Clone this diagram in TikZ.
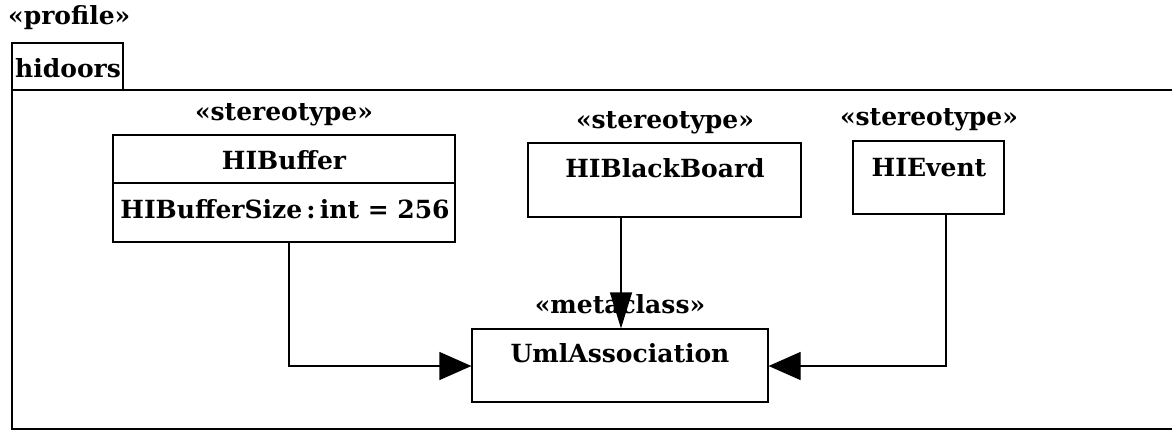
\documentclass[tikz,border=0pt]{standalone}
\usepackage{fontspec}
\setmainfont{DejaVu Serif}
\usetikzlibrary{arrows.meta}
\begin{document}
\begin{tikzpicture}[x=1pt,y=-1pt,
  every node/.style={font=\bfseries\fontsize{25}{30}\selectfont},
  box/.style={draw,line width=1.2pt,inner sep=0pt},
  lbl/.style={inner sep=0pt,anchor=center},
  conn/.style={line width=1.2pt,-{Triangle[length=32pt,width=28pt]}},
  frame/.style={line width=1.5pt}]
\useasboundingbox (0,0) rectangle (1172,431);
% profile frame
\node[lbl,anchor=west] (prof) at (8,18) {«profile»};
\draw[frame] (12,90) rectangle (123,43);
\node[lbl,anchor=west] (hid) at (15,68) {hidoors};
\draw[frame] (1180,90) -- (12,90) -- (12,429) -- (1180,429);
% HIBuffer
\node[box,minimum width=342pt,minimum height=107pt] (buf) at (284,188.5) {};
\draw[line width=1.2pt] (113,183) -- (455,183);
\node[lbl] (bufst) at (284,115) {«stereotype»};
\node[lbl] (bufn) at (284,160) {HIBuffer};
\node[lbl] (bufa) at (285,209) {HIBufferSize\,:\,int = 256};
% HIBlackBoard
\node[box,minimum width=273pt,minimum height=74pt] (bb) at (664.5,180) {};
\node[lbl] (bbst) at (665,123) {«stereotype»};
\node[lbl] (bbn) at (665,168) {HIBlackBoard};
% HIEvent
\node[box,minimum width=151pt,minimum height=73pt] (ev) at (928.5,177.5) {};
\node[lbl] (evst) at (929,120) {«stereotype»};
\node[lbl] (evn) at (929,168) {HIEvent};
% UmlAssociation
\node[box,minimum width=296pt,minimum height=73pt] (ua) at (620,365.5) {};
\node[lbl] (uast) at (620,304) {«metaclass»};
\node[lbl] (uan) at (620,353) {UmlAssociation};
% connectors
\coordinate (c1) at (289,366);
\coordinate (c3) at (946,366);
\draw[conn] (buf.south -| c1) -- (c1) -- (ua.west |- c1);
\draw[line width=1.2pt,-{Triangle[length=36pt,width=22pt]}] (bb.south -| 621,0) -- (ua.north -| 621,0);
\draw[conn] (ev.south -| c3) -- (c3) -- (ua.east |- c3);
\end{tikzpicture}
\end{document}
